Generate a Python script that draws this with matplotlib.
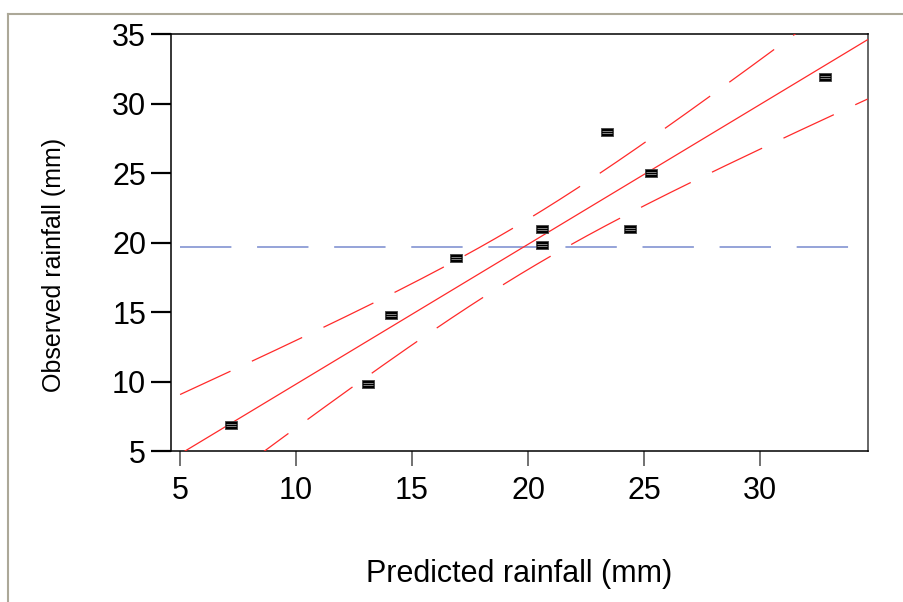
import numpy as np
import matplotlib
matplotlib.use("Agg")
import matplotlib.pyplot as plt
from matplotlib import font_manager
from matplotlib.lines import Line2D

# Data
predicted = [7.2, 13.1, 14.1, 16.9, 20.6, 20.6, 23.4, 24.4, 25.3, 32.8]
observed = [6.9, 9.85, 14.8, 18.9, 21.0, 19.85, 28.0, 21.0, 25.0, 31.9]
x_ticks = [5, 10, 15, 20, 25, 30]
y_ticks = [5, 10, 15, 20, 25, 30, 35]

names = {f.name for f in font_manager.fontManager.ttflist}
main_font = "Liberation Sans" if "Liberation Sans" in names else "DejaVu Sans"
plt.rcParams["font.family"] = [main_font, "DejaVu Sans"]
plt.rcParams["lines.scale_dashes"] = False

x = np.array(predicted)
y = np.array(observed)
n = len(x)

# Linear fit with 95% confidence curves for the fit
slope, intercept = np.polyfit(x, y, 1)
resid = y - (intercept + slope * x)
s = np.sqrt(np.sum(resid ** 2) / (n - 2))
sxx = np.sum((x - x.mean()) ** 2)
t_val = 2.306  # t(0.975, 8)

xmin, xmax = 4.61, 34.64
xs = np.linspace(5, xmax, 300)
fit = intercept + slope * xs
half = t_val * s * np.sqrt(1.0 / n + (xs - x.mean()) ** 2 / sxx)

fig = plt.figure(figsize=(9.04, 6.02), dpi=100)
ax = fig.add_axes([0.1892, 0.2508, 0.9598 - 0.1892, 0.943 - 0.2508])

ax.plot([5, xmax], [y.mean(), y.mean()], color="#8393d2", lw=1.2,
        dashes=(37, 18.5), zorder=2)
ax.plot(xs, fit, color="#ff2a2a", lw=0.9, zorder=3)
ax.plot(xs, fit + half, color="#ff2a2a", lw=0.9, dashes=(40, 17), zorder=3)
ax.plot(xs, fit - half, color="#ff2a2a", lw=0.9, dashes=(40, 17), zorder=3)

box = [(-1.5, -1), (1.5, -1), (1.5, 1), (-1.5, 1), (-1.5, -1)]
ax.plot(x, y, ls="none", marker=box, ms=9, mfc="black", mec="#444444",
        mew=0.6, zorder=5)
stripes = matplotlib.path.Path(
    [(-1.2, -0.33), (1.2, -0.33), (-1.2, 0.33), (1.2, 0.33), (-1.5, 0), (1.5, 0)],
    [1, 2, 1, 2, 1, 1])
ax.plot(x, y, ls="none", marker=stripes, ms=9, mfc="none", mec="#999999",
        mew=0.6, zorder=6)

ax.set_xlim(xmin, xmax)
ax.set_ylim(5, 35)
ax.set_xticks(x_ticks)
ax.set_yticks(y_ticks)
ax.tick_params(axis="y", length=14.5, width=1.6, color="black", pad=3.5,
               labelsize=22)
ax.tick_params(axis="x", length=11, width=1.3, color="#666666", pad=7,
               labelsize=22)
for side in ["left", "bottom", "top"]:
    ax.spines[side].set_color("black")
    ax.spines[side].set_linewidth(1.1)
ax.spines["right"].set_color("#666666")
ax.spines["right"].set_linewidth(1.4)

fig.text(0.5746, 1 - 574 / 602, "Predicted rainfall (mm)", fontsize=22,
         ha="center", va="center")
fig.text(54 / 904, 1 - 265 / 602, "Observed rainfall (mm)", fontsize=18,
         ha="center", va="center", rotation=90)

# Grey frame around the graph
frame = "#aca898"
fig.add_artist(Line2D([8.3 / 904, 1], [1 - 14.3 / 602] * 2, color=frame,
                      lw=1.5, transform=fig.transFigure))
fig.add_artist(Line2D([8.3 / 904] * 2, [0, 1 - 14.3 / 602], color=frame,
                      lw=1.5, transform=fig.transFigure))

fig.savefig("out.png", dpi=100)
